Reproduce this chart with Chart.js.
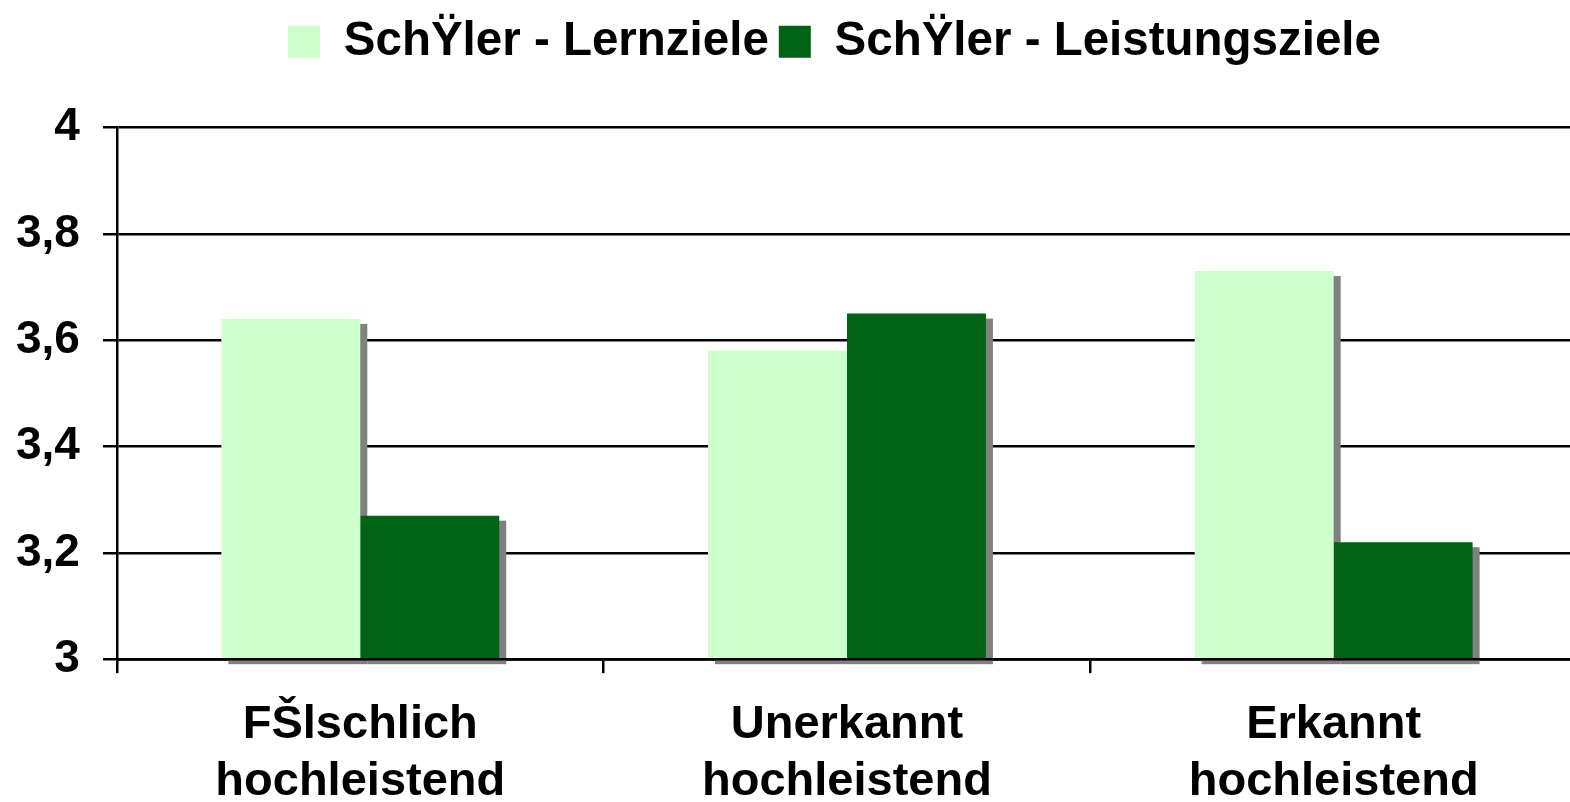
<!DOCTYPE html>
<html>
<head>
<meta charset="utf-8">
<script src="https://cdn.jsdelivr.net/npm/chart.js@4.4.1/dist/chart.umd.min.js"></script>
<style>
  html, body { margin: 0; padding: 0; background: #fff; overflow: hidden; }
  #wrap { width: 1584px; height: 834px; margin-left: -7px; }
</style>
</head>
<body>
<div id="wrap"><canvas id="myChart"></canvas></div>
<script>
// values
var categories = [
  ['FŠlschlich', 'hochleistend'],
  ['Unerkannt', 'hochleistend'],
  ['Erkannt', 'hochleistend']
];
var seriesNames = ['SchŸler - Lernziele', 'SchŸler - Leistungsziele'];
var lernziele = [3.64, 3.58, 3.73];
var leistungsziele = [3.27, 3.65, 3.22];
var yTicks = [3, 3.2, 3.4, 3.6, 3.8, 4];

var colors = ['#CCFFCC', '#006414'];
var fontFamily = '"Liberation Sans", Arial, sans-serif';
var lineW = 2.5;

// gray drop shadow behind every bar, and the baseline drawn again on top
var barShadow = {
  id: 'barShadow',
  beforeInit: function(chart){
    var fit = chart.legend.fit;
    chart.legend.fit = function(){
      fit.call(this);
      this.height += 52;
    };
  },
  afterLayout: function(chart){
    chart.legend.left += 99;
  },
  beforeDatasetsDraw: function(chart){
    var ctx = chart.ctx;
    var bottom = chart.chartArea.bottom;
    ctx.save();
    ctx.fillStyle = '#808080';
    chart.data.datasets.forEach(function(ds, i){
      chart.getDatasetMeta(i).data.forEach(function(bar){
        var p = bar.getProps(['x', 'y', 'base', 'width'], true);
        var base = Math.min(p.base, bottom);
        ctx.fillRect(p.x - p.width / 2 + 7, p.y + 5, p.width, base - p.y);
      });
    });
    ctx.restore();
  },
  afterDatasetsDraw: function(chart){
    var ctx = chart.ctx;
    var y = chart.scales.y.getPixelForValue(yTicks[0]);
    ctx.save();
    ctx.strokeStyle = '#000';
    ctx.lineWidth = lineW;
    ctx.beginPath();
    ctx.moveTo(chart.chartArea.left, y);
    ctx.lineTo(chart.chartArea.right, y);
    ctx.stroke();
    ctx.restore();
  }
};

var ctx = document.querySelector('#myChart').getContext('2d');
var barChart = new Chart(ctx, {
  type: 'bar',
  data: {
    labels: categories,
    datasets: [{
      label: seriesNames[0],
      data: lernziele,
      backgroundColor: colors[0],
      borderWidth: 0
    }, {
      label: seriesNames[1],
      data: leistungsziele,
      backgroundColor: colors[1],
      borderWidth: 0
    }]
  },
  options: {
    responsive: true,
    maintainAspectRatio: false,
    animation: false,
    layout: { padding: { left: 0, top: 8, right: 0, bottom: 0 } },
    datasets: {
      bar: { categoryPercentage: 0.571, barPercentage: 1 }
    },
    plugins: {
      legend: {
        position: 'top',
        labels: {
          boxWidth: 32,
          boxHeight: 32,
          padding: 10,
          color: '#000',
          font: { family: fontFamily, size: 47.5, weight: 'bold' }
        }
      },
      tooltip: { enabled: false }
    },
    scales: {
      x: {
        grid: {
          offset: true,
          drawOnChartArea: false,
          drawTicks: true,
          tickLength: 14,
          color: '#000',
          lineWidth: lineW
        },
        border: { display: true, color: '#000', width: lineW },
        ticks: {
          color: '#000',
          padding: 24,
          maxRotation: 0,
          autoSkip: false,
          font: { family: fontFamily, size: 47, weight: 'bold' }
        }
      },
      y: {
        min: yTicks[0],
        max: yTicks[yTicks.length - 1],
        afterBuildTicks: function(axis){
          axis.ticks = yTicks.map(function(v){ return { value: v }; });
        },
        grid: {
          color: '#000',
          lineWidth: lineW,
          drawTicks: true,
          tickLength: 14
        },
        border: { display: true, color: '#000', width: lineW },
        ticks: {
          color: '#000',
          padding: 23,
          font: { family: fontFamily, size: 46, weight: 'bold' },
          callback: function(v){
            return String(Math.round(v * 10) / 10).replace('.', ',');
          }
        }
      }
    }
  },
  plugins: [barShadow]
});
</script>
</body>
</html>
